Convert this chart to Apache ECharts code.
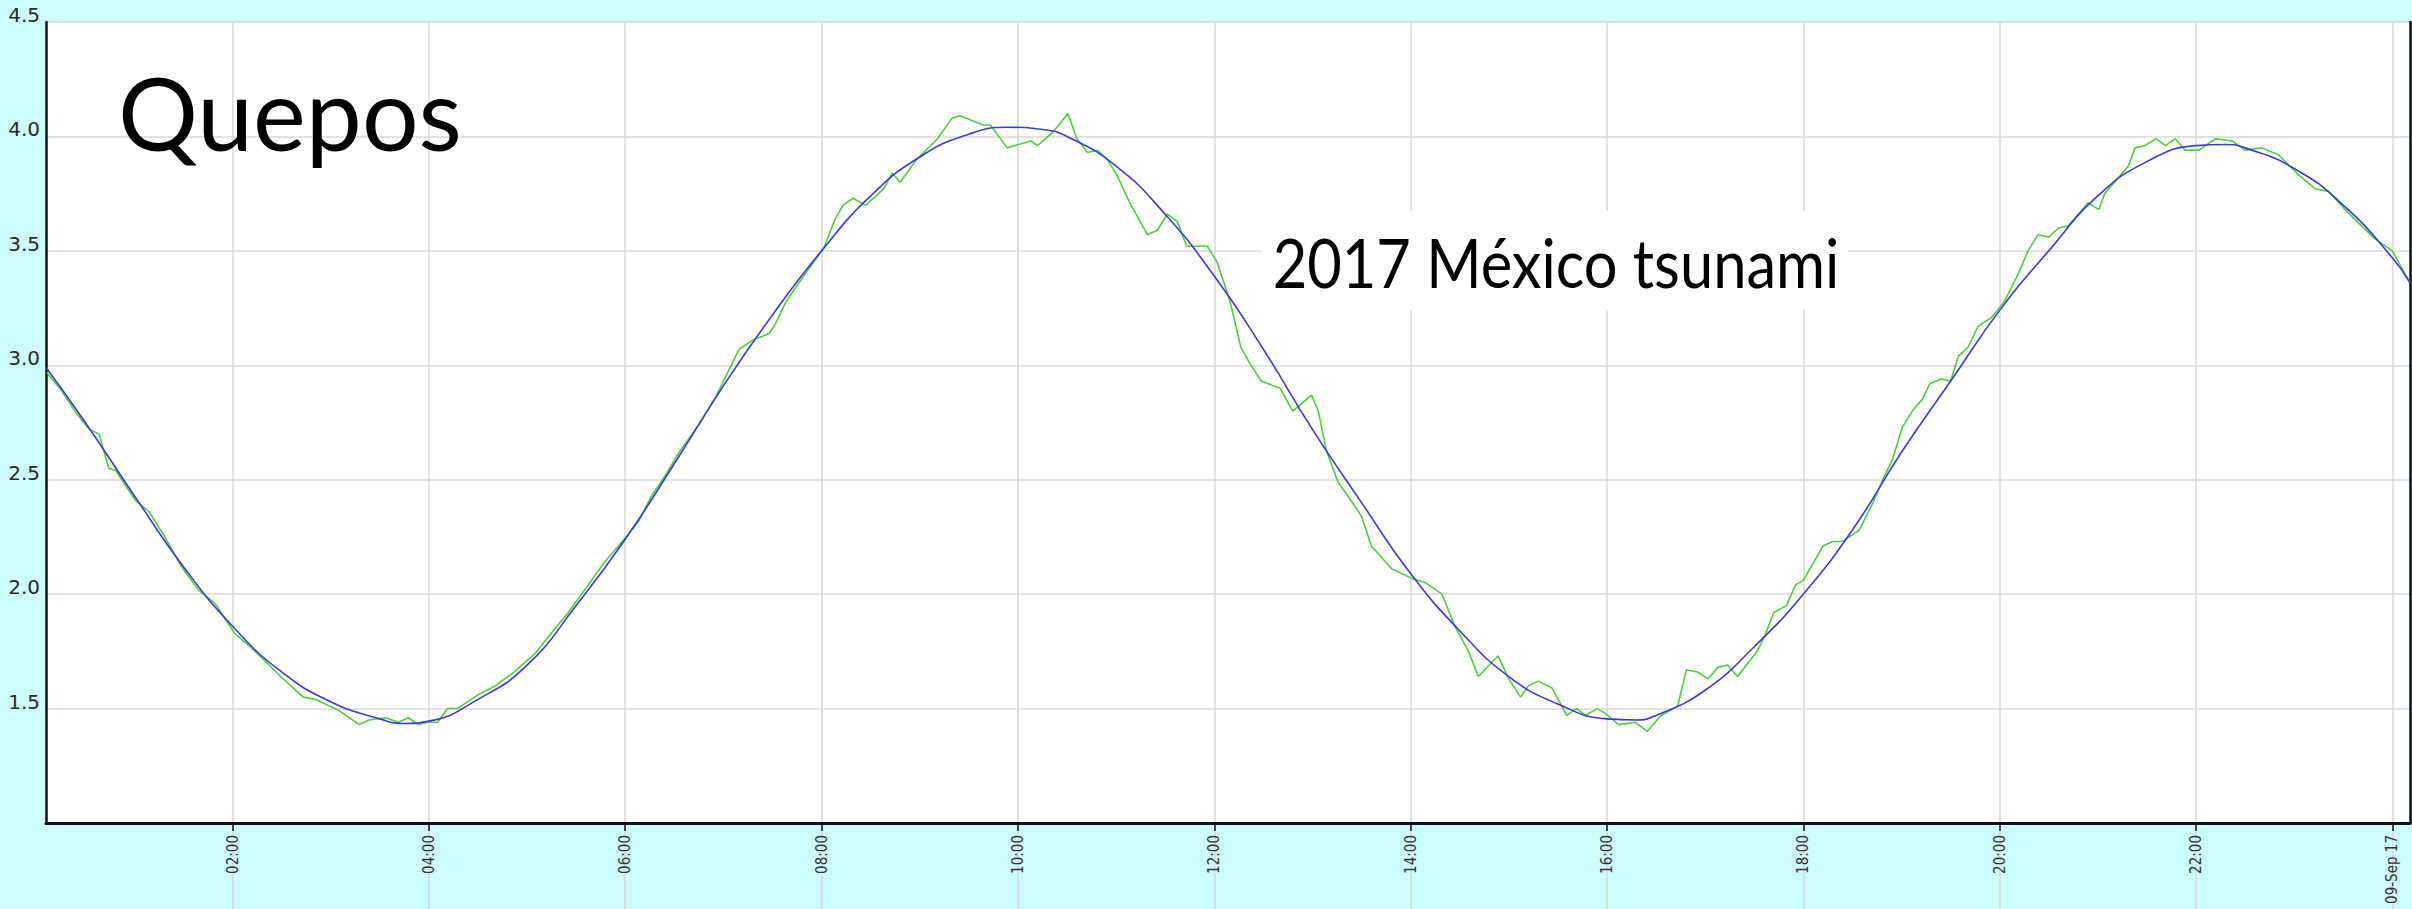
<!DOCTYPE html>
<html>
<head>
<meta charset="utf-8">
<script src="https://cdn.jsdelivr.net/npm/echarts@6/dist/echarts.min.js"></script>
<style>
html,body{margin:0;padding:0;background:#cdfdfd;}
#chart{width:2412px;height:909px;}
</style>
</head>
<body>
<div id="chart"></div>
<script>
// Observed sea level (green), hours since 08-Sep-2017 00:00
const obsHours = [0.11,0.14,0.24,0.41,0.54,0.64,0.74,0.81,1.01,1.15,1.31,1.48,1.65,1.82,2.02,2.18,2.35,2.49,2.72,2.85,3.09,3.29,3.39,3.56,3.69,3.79,3.89,3.99,4.09,4.19,4.29,4.50,4.68,4.87,5.08,5.21,5.42,5.59,5.79,5.97,6.14,6.27,6.41,6.55,6.75,6.92,7.08,7.16,7.30,7.47,7.54,7.64,7.85,8.02,8.14,8.22,8.32,8.45,8.63,8.72,8.80,8.97,9.18,9.33,9.41,9.65,9.72,9.89,10.13,10.20,10.36,10.51,10.60,10.71,10.81,10.91,11.01,11.14,11.32,11.42,11.52,11.62,11.72,11.93,12.03,12.16,12.27,12.36,12.48,12.67,12.80,12.99,13.06,13.14,13.26,13.36,13.50,13.60,13.81,14.01,14.15,14.32,14.45,14.59,14.69,14.89,15.00,15.12,15.20,15.30,15.44,15.59,15.69,15.78,15.90,15.98,16.12,16.29,16.41,16.55,16.72,16.81,16.92,17.03,17.13,17.23,17.33,17.53,17.61,17.70,17.83,17.92,18.00,18.20,18.30,18.40,18.57,18.71,18.81,18.91,19.01,19.11,19.21,19.29,19.41,19.50,19.58,19.68,19.78,19.92,20.05,20.12,20.19,20.29,20.39,20.50,20.60,20.70,20.80,20.90,21.01,21.07,21.21,21.31,21.38,21.48,21.59,21.69,21.79,21.89,22.03,22.20,22.37,22.50,22.67,22.84,22.98,23.05,23.22,23.35,23.52,23.66,23.83,24.00,24.18];
const obsLevels = [2.97,2.95,2.90,2.79,2.72,2.70,2.55,2.54,2.41,2.36,2.25,2.12,2.02,1.96,1.83,1.77,1.70,1.64,1.55,1.54,1.49,1.43,1.45,1.46,1.44,1.46,1.43,1.44,1.44,1.50,1.50,1.56,1.60,1.66,1.74,1.81,1.92,2.02,2.14,2.23,2.32,2.43,2.52,2.62,2.74,2.86,3.00,3.07,3.11,3.14,3.19,3.28,3.41,3.51,3.64,3.70,3.73,3.70,3.77,3.84,3.80,3.90,3.99,4.08,4.09,4.05,4.05,3.95,3.98,3.96,4.02,4.10,3.99,3.93,3.94,3.90,3.83,3.71,3.57,3.59,3.66,3.63,3.52,3.52,3.45,3.28,3.08,3.01,2.93,2.90,2.80,2.87,2.80,2.63,2.49,2.43,2.34,2.21,2.11,2.07,2.05,2.00,1.86,1.75,1.64,1.73,1.63,1.55,1.60,1.62,1.59,1.47,1.50,1.47,1.50,1.48,1.43,1.44,1.40,1.47,1.51,1.67,1.66,1.63,1.68,1.69,1.64,1.75,1.82,1.92,1.95,2.04,2.06,2.21,2.23,2.23,2.28,2.40,2.50,2.59,2.73,2.80,2.85,2.92,2.94,2.93,3.04,3.08,3.17,3.21,3.28,3.34,3.40,3.50,3.57,3.56,3.60,3.61,3.66,3.71,3.68,3.75,3.82,3.87,3.95,3.96,3.99,3.96,3.99,3.94,3.94,3.99,3.98,3.94,3.95,3.92,3.86,3.83,3.77,3.76,3.68,3.62,3.55,3.50,3.36];

// Predicted tide (blue)
const predHours = [0.1,0.5,1.0,1.5,2.0,2.5,3.0,3.5,3.75,4.0,4.5,5.0,5.5,6.0,6.5,7.0,7.5,8.0,8.5,9.0,9.5,9.9,10.25,10.5,11.0,11.5,12.0,12.5,13.0,13.5,14.0,14.5,15.0,15.5,16.0,16.3,16.5,17.0,17.5,18.0,18.5,19.0,19.5,20.0,20.5,21.0,21.5,22.0,22.3,22.5,23.0,23.5,24.0,24.18];
const predLevels = [2.99,2.75,2.43,2.12,1.86,1.66,1.53,1.455,1.435,1.445,1.54,1.69,1.95,2.24,2.57,2.91,3.22,3.50,3.74,3.91,4.01,4.04,4.03,4.00,3.87,3.66,3.39,3.07,2.72,2.40,2.09,1.84,1.64,1.52,1.455,1.45,1.47,1.58,1.77,2.00,2.28,2.62,2.93,3.24,3.50,3.74,3.89,3.96,3.965,3.95,3.86,3.70,3.47,3.36];

const xTickHours = [2,4,6,8,10,12,14,16,18,20,22,24];
const xTickLabels = ['02:00','04:00','06:00','08:00','10:00','12:00','14:00','16:00','18:00','20:00','22:00','09-Sep 17'];
const yMin = 1.0, yMax = 4.5, yStep = 0.5;
const xMin = 0.1, xMax = 24.18;

const obsData = obsHours.map((h, i) => [h, obsLevels[i]]);
const predData = predHours.map((h, i) => [h, predLevels[i]]);

const chart = echarts.init(document.getElementById('chart'), null, {renderer: 'svg'});
chart.setOption({
  animation: false,
  backgroundColor: '#cdfdfd',
  grid: [
    {left: 46, right: 2, top: 22, bottom: 86, show: true, backgroundColor: '#ffffff', borderWidth: 0},
    {left: 46, right: 2, top: 824, bottom: 0, show: false}
  ],
  xAxis: [
    {
      type: 'value', gridIndex: 0, min: xMin, max: xMax,
      axisLine: {show: true, onZero: false, lineStyle: {color: '#111', width: 3}},
      axisTick: {show: true, length: 8, customValues: xTickHours, lineStyle: {color: '#111', width: 1.5}},
      axisLabel: {
        show: true, customValues: xTickHours, rotate: 90, margin: 12,
        fontFamily: 'DejaVu Sans Condensed, DejaVu Sans', fontSize: 15, color: '#333',
        formatter: (v) => { const i = xTickHours.indexOf(Math.round(v)); return i >= 0 ? xTickLabels[i] : ''; }
      },
      splitLine: {show: true, lineStyle: {color: '#d8d8d8', width: 1.5}}
    },
    {
      type: 'value', gridIndex: 1, min: xMin, max: xMax,
      axisLine: {show: false},
      axisTick: {show: false, customValues: xTickHours},
      axisLabel: {show: false, customValues: xTickHours},
      splitLine: {show: true, lineStyle: {color: '#d8d8d8', width: 1.5}}
    }
  ],
  yAxis: [
    {
      type: 'value', gridIndex: 0, min: yMin, max: yMax, interval: yStep,
      axisLine: {show: true, onZero: false, lineStyle: {color: '#111', width: 2.5}},
      axisTick: {show: false},
      axisLabel: {
        margin: 6, fontFamily: 'DejaVu Sans', fontSize: 20, color: '#2a2a2a',
        verticalAlign: 'bottom', lineHeight: 14,
        formatter: (v) => Math.abs(v - yMin) < 1e-9 ? '' : v.toFixed(1)
      },
      splitLine: {show: true, lineStyle: {color: '#d8d8d8', width: 1.5}}
    },
    {
      type: 'value', gridIndex: 0, position: 'right', min: yMin, max: yMax,
      axisLine: {show: true, onZero: false, lineStyle: {color: '#111', width: 2.5}},
      axisTick: {show: false}, axisLabel: {show: false}, splitLine: {show: false}
    },
    {type: 'value', gridIndex: 1, min: 0, max: 1, show: false, splitLine: {show: false}}
  ],
  series: [
    {
      name: 'Observed', type: 'line', xAxisIndex: 0, yAxisIndex: 0,
      data: obsData, showSymbol: false, symbol: 'none',
      lineStyle: {color: '#4fcf3f', width: 1.6}, z: 2
    },
    {
      name: 'Predicted', type: 'line', xAxisIndex: 0, yAxisIndex: 0,
      data: predData, showSymbol: false, symbol: 'none', smooth: 0.5,
      lineStyle: {color: '#3b3bd8', width: 1.6}, z: 3
    }
  ],
  graphic: [
    {
      type: 'text', left: 118, top: 62, z: 10,
      style: {text: 'Quepos', font: '100px Lato', fill: '#000'}
    },
    {
      type: 'rect', shape: {x: 1261, y: 211, width: 587, height: 99}, z: 9,
      style: {fill: '#ffffff'}
    },
    {
      type: 'text', x: 1556, y: 262, z: 10, scaleX: 0.89,
      style: {text: '2017 México tsunami', font: '67px Lato', fill: '#000', align: 'center', verticalAlign: 'middle'}
    }
  ]
});
</script>
</body>
</html>
